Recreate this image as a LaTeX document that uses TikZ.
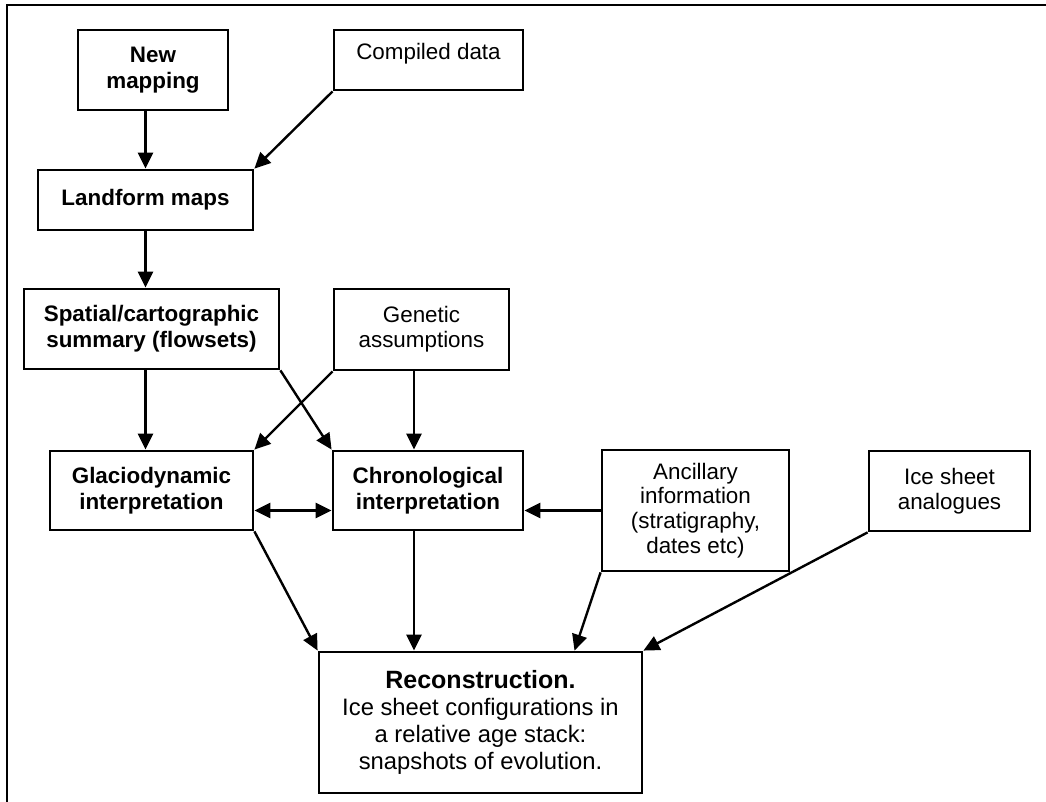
\documentclass[tikz,border=0pt]{standalone}
\usepackage{fontspec}
\setmainfont{Liberation Sans}
\usetikzlibrary{arrows.meta}

\begin{document}
\begin{tikzpicture}[x=0.5pt,y=-0.5pt]
    \tikzset{
        blk/.style={
            draw, line width=1.4pt, align=center, inner sep=0pt,
            font=\fontsize{11.2}{12.4}\selectfont
        },
        bblk/.style={
            blk, font=\fontsize{11.2}{13}\selectfont\bfseries
        },
        flow/.style={
            line width=1.2pt, -{Triangle[length=8pt,width=7.5pt]}
        },
        flowboth/.style={
            line width=1.2pt, {Triangle[length=8pt,width=7.5pt]}-{Triangle[length=8pt,width=7.5pt]}
        }
    }

    \useasboundingbox (0,0) rectangle (1046,802);
    \draw[line width=1.2pt] (1046,5) -- (7,5) -- (7,802);

    \node[bblk, minimum width=75pt, minimum height=40pt] (newmap) at (153,70) {New\\mapping};
    \node[blk, minimum width=94.5pt, minimum height=30pt, text depth=9pt] (compiled) at (428.5,60) {Compiled data};
    \node[bblk, minimum width=107.5pt, minimum height=30pt] (landform) at (145.5,200) {Landform maps};
    \node[bblk, minimum width=127.5pt, minimum height=40pt] (spatial) at (151.5,329) {Spatial/cartographic\\summary (flowsets)};
    \node[blk, minimum width=87.5pt, minimum height=40.5pt] (genetic) at (421.5,329.5) {Genetic\\assumptions};
    \node[bblk, minimum width=101.5pt, minimum height=39.5pt] (glacio) at (151.5,490.5) {Glaciodynamic\\interpretation};
    \node[bblk, minimum width=95pt, minimum height=39.5pt] (chrono) at (428,490.5) {Chronological\\interpretation};
    \node[blk, minimum width=93.5pt, minimum height=60.5pt] (ancil) at (695.5,510.5) {Ancillary\\information\\(stratigraphy,\\dates etc)};
    \node[blk, minimum width=80.5pt, minimum height=40pt] (icesh) at (949.5,491) {Ice sheet\\analogues};
    \node[blk, minimum width=161.5pt, minimum height=70.5pt, font=\fontsize{11.9}{13.5}\selectfont] (recon) at (480.5,722.5)
        {{\fontsize{12.5}{13.5}\selectfont\bfseries Reconstruction.}\\Ice sheet configurations in\\a relative age stack:\\snapshots of evolution.};

    \coordinate (cx) at ([xshift=-7pt] chrono.north);
    \coordinate (cy) at ([xshift=-7pt] chrono.south);
    \coordinate (rx) at ([xshift=47pt] recon.north);

    \draw[flow] (landform.north |- newmap.south) -- (landform.north);
    \draw[flow] (compiled.south west) -- (landform.north east);
    \draw[flow] (landform.south) -- (landform.south |- spatial.north);
    \draw[flow] (landform.south |- spatial.south) -- (landform.south |- glacio.north);
    \draw[flow] (spatial.south east) -- (chrono.north west);
    \draw[flow] (genetic.south west) -- (glacio.north east);
    \draw[flow] (cx |- genetic.south) -- (cx);
    \draw[flowboth] (glacio.east |- ancil.west) -- (chrono.west |- ancil.west);
    \draw[flow] (ancil.west) -- (chrono.east |- ancil.west);
    \draw[flow] (glacio.south east) -- (recon.north west);
    \draw[flow] (cy) -- (cy |- recon.north);
    \draw[flow] (ancil.south west) -- (rx);
    \draw[flow] (icesh.south west) -- (recon.north east);
\end{tikzpicture}
\end{document}
